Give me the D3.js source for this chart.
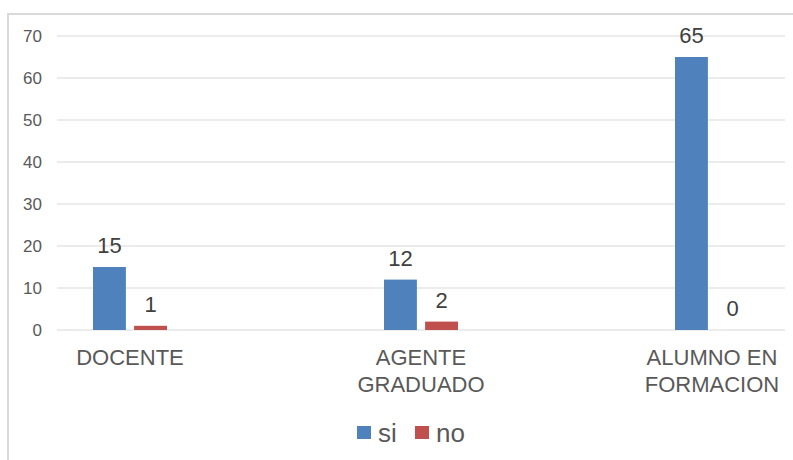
<!DOCTYPE html>
<html>
<head>
<meta charset="utf-8">
<script src="https://cdn.jsdelivr.net/npm/d3@7"></script>
<style>
  body { margin: 0; background: #fff; }
  svg { display: block; font-family: "Liberation Sans", Arial, sans-serif; }
</style>
</head>
<body>
<div id="chart"></div>
<script>
const categories = [["DOCENTE"], ["AGENTE", "GRADUADO"], ["ALUMNO EN", "FORMACION"]];
const seriesNames = ["si", "no"];
const siValues = [15, 12, 65];
const noValues = [1, 2, 0];
const yTicks = [0, 10, 20, 30, 40, 50, 60, 70];
const colors = ["#4f81bd", "#c0504d"];

(() => {
  const width = 793, height = 460;
  const textColor = "#595959";

  const svg = d3.select("#chart").append("svg")
    .attr("width", width)
    .attr("height", height);

  // chart frame (cropped on right and bottom)
  svg.append("rect")
    .attr("x", 8).attr("y", 14)
    .attr("width", 820).attr("height", 520)
    .attr("fill", "none")
    .attr("stroke", "#d9d9d9")
    .attr("stroke-width", 2);

  const catKeys = categories.map(d => d.join(" "));
  const x = d3.scalePoint().domain(catKeys).range([130, 712]);
  const xs = d3.scaleBand().domain(seriesNames).range([-37, 37]).paddingInner(0.2);
  const y = d3.scaleLinear().domain([0, 70]).range([330, 36]);

  // gridlines + tick labels
  const grid = svg.append("g");
  yTicks.forEach(t => {
    grid.append("line")
      .attr("x1", 57).attr("x2", 785)
      .attr("y1", y(t)).attr("y2", y(t))
      .attr("stroke", "#d9d9d9").attr("stroke-width", 1);
    grid.append("text")
      .attr("x", 42).attr("y", y(t))
      .attr("dy", "0.35em")
      .attr("text-anchor", "end")
      .attr("font-size", "17px")
      .attr("fill", textColor)
      .text(t);
  });

  const series = [siValues, noValues];
  series.forEach((vals, s) => {
    const g = svg.append("g");
    g.selectAll("rect")
      .data(vals)
      .join("rect")
      .attr("x", (d, i) => x(catKeys[i]) + xs(seriesNames[s]))
      .attr("width", xs.bandwidth())
      .attr("y", d => y(d))
      .attr("height", d => y(0) - y(d))
      .attr("fill", colors[s]);
    g.selectAll("text")
      .data(vals)
      .join("text")
      .attr("x", (d, i) => x(catKeys[i]) + xs(seriesNames[s]) + xs.bandwidth() / 2)
      .attr("y", d => y(d) - 14)
      .attr("text-anchor", "middle")
      .attr("font-size", "22px")
      .attr("fill", "#404040")
      .text(d => d);
  });

  // category labels
  categories.forEach((lines, i) => {
    const t = svg.append("text")
      .attr("x", x(catKeys[i]))
      .attr("y", 365)
      .attr("text-anchor", "middle")
      .attr("font-size", "22px")
      .attr("fill", textColor);
    lines.forEach((ln, j) => {
      t.append("tspan")
        .attr("x", x(catKeys[i]))
        .attr("dy", j === 0 ? 0 : 27)
        .text(ln);
    });
  });

  // legend
  const legend = svg.append("g");
  const legendX = [357, 415];
  seriesNames.forEach((name, s) => {
    legend.append("rect")
      .attr("x", legendX[s]).attr("y", 426)
      .attr("width", 14).attr("height", 13)
      .attr("fill", colors[s]);
    legend.append("text")
      .attr("x", legendX[s] + 21).attr("y", 442)
      .attr("font-size", "26px")
      .attr("fill", textColor)
      .text(name);
  });
})();
</script>
</body>
</html>
